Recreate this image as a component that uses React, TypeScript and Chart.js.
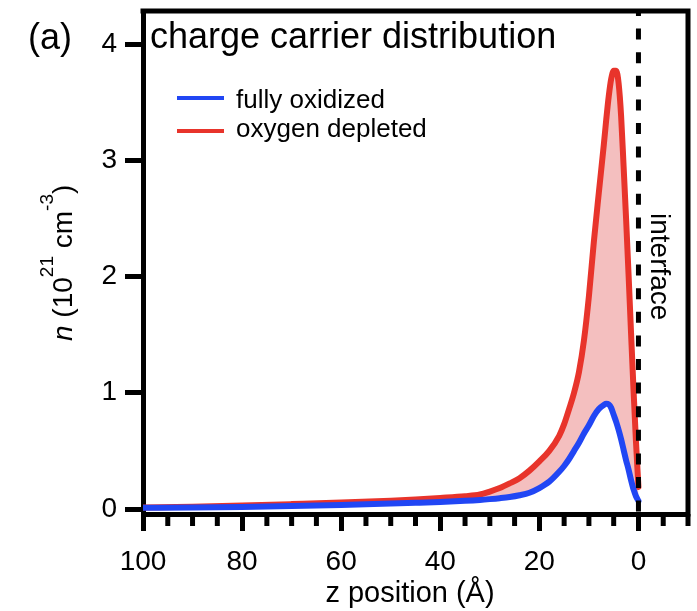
import React, { useEffect, useRef } from "react";
import { Chart, registerables } from "chart.js";

Chart.register(...registerables);

// ---- data ----
const Z_POSITIONS = [100, 90, 80, 70, 60, 50, 45, 40, 35, 32, 30, 28, 26, 24, 22, 20, 18, 16, 15, 14, 13, 12, 11, 10, 9, 8, 7, 6.5, 6, 5.5, 5, 4.5, 4, 3.5, 3, 2.5, 2, 1.5, 1, 0.5, 0];
const FULLY_OXIDIZED = [0.01, 0.013, 0.018, 0.025, 0.035, 0.047, 0.053, 0.06, 0.07, 0.078, 0.085, 0.093, 0.103, 0.118, 0.14, 0.18, 0.235, 0.32, 0.37, 0.43, 0.5, 0.57, 0.65, 0.72, 0.8, 0.86, 0.895, 0.905, 0.9, 0.87, 0.81, 0.75, 0.68, 0.6, 0.51, 0.42, 0.34, 0.25, 0.17, 0.11, 0.07];
const OXYGEN_DEPLETED = [0.012, 0.02, 0.03, 0.042, 0.055, 0.072, 0.082, 0.095, 0.11, 0.125, 0.15, 0.18, 0.22, 0.265, 0.33, 0.41, 0.5, 0.63, 0.73, 0.86, 1.0, 1.18, 1.45, 1.83, 2.3, 2.72, 3.13, 3.35, 3.55, 3.7, 3.77, 3.77, 3.66, 3.38, 2.95, 2.5, 2.02, 1.52, 1.03, 0.58, 0.19];
const SERIES_LABELS = ["fully oxidized", "oxygen depleted"];
const X_MAJOR_TICKS = [100, 80, 60, 40, 20, 0];
const X_MINOR_TICKS = [95, 90, 85, 75, 70, 65, 55, 50, 45, 35, 30, 25, 15, 10, 5, -5, -10];
const Y_TICKS = [0, 1, 2, 3, 4];
const X_MIN = -10;
const X_MAX = 100;
const Y_MIN = -0.043;
const Y_MAX = 4.284;
const INTERFACE_Z = 0;
const PANEL_LABEL = "(a)";
const TITLE = "charge carrier distribution";
const X_TITLE = "z position (Å)";
const INTERFACE_LABEL = "interface";

// ---- styles ----
const FONT = '"Liberation Sans", Arial, Helvetica, sans-serif';
const BLUE = "#2146f4";
const RED = "#e8342b";
const PINK = "#f4bfbf";

const decorPlugin = {
  id: "decor",
  afterDatasetsDraw(chart: any) {
    const { ctx, chartArea: ca, scales } = chart;
    const xs = scales.x;
    ctx.save();
    // interface dashed line
    const ix = xs.getPixelForValue(INTERFACE_Z);
    ctx.strokeStyle = "#000";
    ctx.lineWidth = 5;
    ctx.setLineDash([11, 12.6]);
    ctx.lineDashOffset = 6;
    ctx.beginPath();
    ctx.moveTo(ix, ca.top);
    ctx.lineTo(ix, ca.bottom);
    ctx.stroke();
    ctx.restore();
  },
  afterDraw(chart: any) {
    const { ctx, chartArea: ca, scales } = chart;
    const xs = scales.x;
    ctx.save();
    ctx.strokeStyle = "#000";
    ctx.lineWidth = 5;
    ctx.lineJoin = "miter";
    ctx.lineCap = "butt";
    // top + right frame
    ctx.beginPath();
    ctx.moveTo(ca.left - 2.5, ca.top);
    ctx.lineTo(ca.right, ca.top);
    ctx.lineTo(ca.right, ca.bottom + 2.5);
    ctx.stroke();
    // minor x ticks
    X_MINOR_TICKS.forEach((v) => {
      const px = xs.getPixelForValue(v);
      ctx.beginPath();
      ctx.moveTo(px, ca.bottom);
      ctx.lineTo(px, ca.bottom + 12);
      ctx.stroke();
    });

    ctx.fillStyle = "#000";
    ctx.textBaseline = "alphabetic";
    // panel label
    ctx.font = `36px ${FONT}`;
    ctx.textAlign = "left";
    ctx.fillText(PANEL_LABEL, 28, 49);
    // title
    ctx.fillText(TITLE, 150, 48);

    // legend
    const legend = [
      { label: SERIES_LABELS[0], color: BLUE, y: 98, base: 108 },
      { label: SERIES_LABELS[1], color: RED, y: 131, base: 137 },
    ];
    ctx.font = `26px ${FONT}`;
    legend.forEach((l) => {
      ctx.strokeStyle = l.color;
      ctx.lineWidth = 4;
      ctx.beginPath();
      ctx.moveTo(177, l.y);
      ctx.lineTo(224, l.y);
      ctx.stroke();
      ctx.fillText(l.label, 236, l.base);
    });

    // x-axis title
    ctx.font = `29px ${FONT}`;
    ctx.textAlign = "center";
    ctx.fillText(X_TITLE, 410, 602);

    // y-axis title: n (10^21 cm^-3)
    ctx.save();
    ctx.translate(72, 341);
    ctx.rotate(-Math.PI / 2);
    ctx.textAlign = "left";
    let cx = 0;
    const seg = (text: string, font: string, dy: number) => {
      ctx.font = font;
      ctx.fillText(text, cx, dy);
      cx += ctx.measureText(text).width;
    };
    const base = `28px ${FONT}`;
    const sup = `19px ${FONT}`;
    seg("n", `italic 28px ${FONT}`, 0);
    seg(" (10", base, 0);
    seg("21", sup, -19);
    seg(" cm", base, 0);
    seg("-3", sup, -19);
    seg(")", base, 0);
    ctx.restore();

    // interface label
    ctx.save();
    ctx.translate(651, 213);
    ctx.rotate(Math.PI / 2);
    ctx.font = `28px ${FONT}`;
    ctx.textAlign = "left";
    ctx.fillText(INTERFACE_LABEL, 0, 0);
    ctx.restore();

    ctx.restore();
  },
};

export default function App() {
  const ref = useRef<HTMLCanvasElement | null>(null);

  useEffect(() => {
    if (!ref.current) return;
    const blue = Z_POSITIONS.map((z, i) => ({ x: z, y: FULLY_OXIDIZED[i] }));
    const red = Z_POSITIONS.map((z, i) => ({ x: z, y: OXYGEN_DEPLETED[i] }));
    const chart = new Chart(ref.current, {
      type: "line",
      data: {
        datasets: [
          {
            label: SERIES_LABELS[0],
            data: blue,
            borderColor: BLUE,
            borderWidth: 6,
            pointRadius: 0,
            cubicInterpolationMode: "monotone",
            borderCapStyle: "round",
            borderJoinStyle: "round",
            fill: false,
            order: 0,
          },
          {
            label: SERIES_LABELS[1],
            data: red,
            borderColor: RED,
            backgroundColor: PINK,
            borderWidth: 6,
            pointRadius: 0,
            cubicInterpolationMode: "monotone",
            borderCapStyle: "round",
            borderJoinStyle: "round",
            fill: { target: 0, above: PINK, below: PINK },
            order: 1,
          },
        ],
      },
      options: {
        responsive: false,
        animation: false,
        devicePixelRatio: 1,
        layout: { padding: { left: 0, right: 9, top: 11, bottom: 0 } },
        plugins: {
          legend: { display: false },
          tooltip: { enabled: false },
          title: { display: false },
        },
        scales: {
          x: {
            type: "linear",
            reverse: true,
            min: X_MIN,
            max: X_MAX,
            afterBuildTicks: (s: any) => {
              s.ticks = X_MAJOR_TICKS.map((v) => ({ value: v }));
            },
            afterFit: (s: any) => {
              s.height = 97;
              s.paddingLeft = 0;
              s.paddingRight = 0;
              s.paddingTop = 0;
              s.paddingBottom = 0;
            },
            grid: {
              drawOnChartArea: false,
              drawTicks: true,
              tickLength: 17,
              tickWidth: 5,
              tickColor: "#000",
            },
            border: { display: true, color: "#000", width: 5 },
            ticks: {
              color: "#000",
              font: { family: FONT, size: 28 },
              padding: 14,
              maxRotation: 0,
              autoSkip: false,
              callback: (v: any) => String(v),
            },
          },
          y: {
            type: "linear",
            min: Y_MIN,
            max: Y_MAX,
            afterBuildTicks: (s: any) => {
              s.ticks = Y_TICKS.map((v) => ({ value: v }));
            },
            afterFit: (s: any) => {
              s.width = 143;
              s.paddingLeft = 0;
              s.paddingRight = 0;
              s.paddingTop = 0;
              s.paddingBottom = 0;
            },
            grid: {
              drawOnChartArea: false,
              drawTicks: true,
              tickLength: 18,
              tickWidth: 5,
              tickColor: "#000",
            },
            border: { display: true, color: "#000", width: 5 },
            ticks: {
              color: "#000",
              font: { family: FONT, size: 28 },
              padding: 8,
              callback: (v: any) => String(v),
            },
          },
        },
      },
      plugins: [decorPlugin],
    } as any);
    return () => chart.destroy();
  }, []);

  return (
    <div style={{ position: "fixed", left: 0, top: 0, width: 697, height: 611, background: "#fff" }}>
      <canvas ref={ref} width={697} height={611} style={{ display: "block" }} />
    </div>
  );
}
